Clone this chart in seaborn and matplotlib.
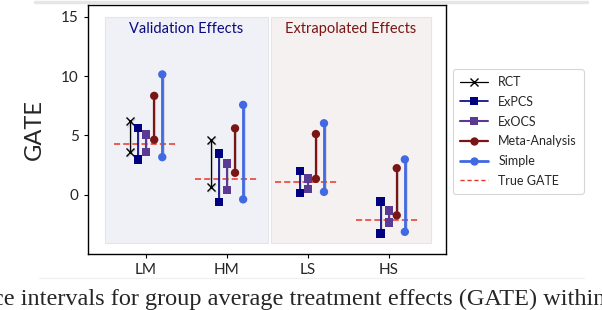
import matplotlib
matplotlib.use('Agg')
import matplotlib.pyplot as plt
import matplotlib.patheffects as pe
from matplotlib.patches import Rectangle
from matplotlib.lines import Line2D
import seaborn as sns
import pandas as pd

# groups on the x axis
groups = ['LM', 'HM', 'LS', 'HS']

# interval endpoints (low, high) per estimator, one entry per group (None = not shown)
rct_low = [3.62, 0.65, None, None]
rct_high = [6.19, 4.60, None, None]
expcs_low = [2.97, -0.65, 0.14, -3.28]
expcs_high = [5.62, 3.47, 1.98, -0.57]
exocs_low = [3.59, 0.37, 0.48, -2.35]
exocs_high = [5.08, 2.63, 1.36, -1.33]
meta_low = [4.63, 1.84, 1.33, -1.75]
meta_high = [8.33, 5.59, 5.11, 2.23]
simple_low = [3.16, -0.40, 0.23, -3.14]
simple_high = [10.14, 7.57, 6.02, 2.97]
true_gate = [4.24, 1.33, 1.10, -2.14]

estimators = ['RCT', 'ExPCS', 'ExOCS', 'Meta-Analysis', 'Simple']
lows = [rct_low, expcs_low, exocs_low, meta_low, simple_low]
highs = [rct_high, expcs_high, exocs_high, meta_high, simple_high]

# style per estimator
colors = ['black', '#000080', '#5B3A94', '#7A1515', '#4169E1']
markers = ['x', 's', 's', 'o', 'o']
offsets = [-0.2, -0.1, 0.0, 0.1, 0.2]
widths = [0.9, 1.2, 1.5, 1.6, 2.0]

sns.set_style('ticks')
plt.rcParams['font.family'] = ['Lato', 'DejaVu Sans']

fig = plt.figure(figsize=(6.02, 3.10), dpi=100)
ax = fig.add_axes([0.146, 0.181, 0.595, 0.803])

# background panels
ax.add_patch(Rectangle((-0.51, -4.05), 2.02, 19.05, facecolor='#F0F1F7',
                       edgecolor='#E4E5EC', linewidth=0.8, zorder=0))
ax.add_patch(Rectangle((1.55, -4.05), 1.97, 19.05, facecolor='#F5F1F0',
                       edgecolor='#E9E4E3', linewidth=0.8, zorder=0))
ax.text(0.5, 14.0, 'Validation Effects', color='#0A0A80', ha='center',
        va='center', fontsize=10.5)
ax.text(2.53, 14.0, 'Extrapolated Effects', color='#7A1515', ha='center',
        va='center', fontsize=10.5)

shadow = [pe.SimpleLineShadow(offset=(0.8, -0.8), alpha=0.12), pe.Normal()]

rows = []
for name, lo, hi in zip(estimators, lows, highs):
    for g, (a, b) in enumerate(zip(lo, hi)):
        if a is None:
            continue
        rows.append({'estimator': name, 'group': g, 'unit': f'{name}-{g}', 'value': a})
        rows.append({'estimator': name, 'group': g, 'unit': f'{name}-{g}', 'value': b})
df = pd.DataFrame(rows)

for name, col, mk, off, lw in zip(estimators, colors, markers, offsets, widths):
    sub = df[df['estimator'] == name].copy()
    sub['x'] = sub['group'] + off
    sns.lineplot(data=sub, x='x', y='value', units='unit', estimator=None,
                 sort=False, color=col, marker=mk, markersize=6,
                 markeredgewidth=1.0 if mk == 'x' else 0,
                 markeredgecolor=col, linewidth=lw, ax=ax, zorder=3,
                 path_effects=shadow)

for g, t in enumerate(true_gate):
    ax.hlines(t, g - 0.4, g + 0.38, colors='#E8352A', linestyles=(0, (4, 2)),
              linewidth=1.1, zorder=2)

ax.set_xlim(-0.72, 3.71)
ax.set_ylim(-5.0, 16.0)
ax.set_xticks(range(len(groups)))
ax.set_xticklabels(groups, fontsize=11)
ax.set_yticks([0, 5, 10, 15])
ax.set_yticklabels(['0', '5', '10', '15'], fontsize=11)
ax.set_xlabel('')
ax.set_ylabel('GATE', fontsize=17, labelpad=12)
for s in ax.spines.values():
    s.set_color('black')
    s.set_linewidth(1.0)
ax.tick_params(length=3, width=0.8, color='black')

handles = [Line2D([], [], color=c, marker=m, markersize=6, linewidth=w,
                  markeredgewidth=1.0 if m == 'x' else 0)
           for c, m, w in zip(colors, markers, widths)]
handles.append(Line2D([], [], color='#E8352A', linestyle=(0, (3, 2)), linewidth=1.0))
labels = estimators + ['True GATE']
leg = fig.legend(handles, labels, loc='upper left', bbox_to_anchor=(0.752, 0.777),
                 borderaxespad=0, fontsize=9, frameon=True, handlelength=2.3,
                 borderpad=0.55, labelspacing=0.62, handletextpad=0.8)
leg.get_frame().set_edgecolor('#CCCCCC')
leg.get_frame().set_linewidth(0.8)

# screenshot frame lines and caption fragment
fig.add_artist(Line2D([0.058, 0.975], [0.995, 0.995], color='#E6E6E6', linewidth=2.5))
fig.add_artist(Line2D([0.065, 0.97], [0.103, 0.103], color='#F0F0F0', linewidth=1.0))
fig.text(-0.012, 0.035, 'ce intervals for group average treatment effects (GATE) within',
         family=['Liberation Serif', 'DejaVu Serif'], fontsize=17.5, va='center')

fig.savefig('out.png', dpi=100)
